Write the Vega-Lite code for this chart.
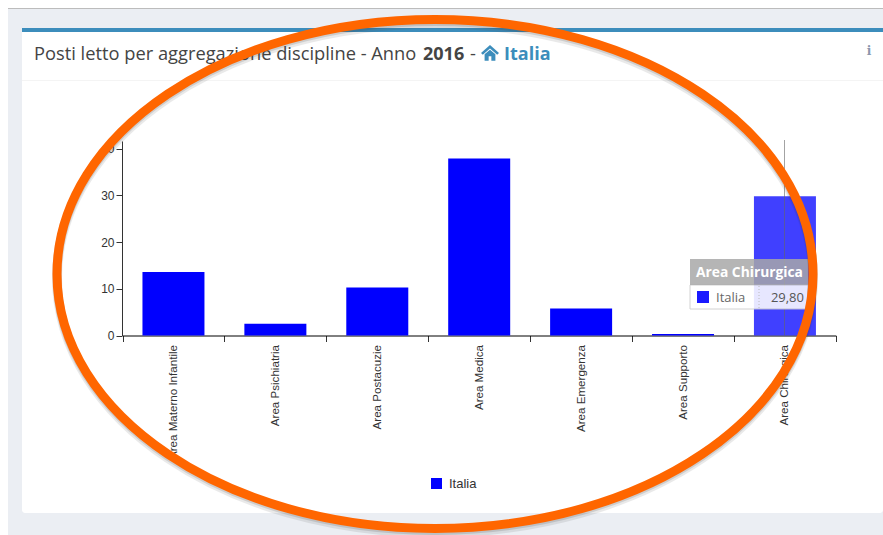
{
"$schema":"https://vega.github.io/schema/vega-lite/v6.json",
"width":861,"height":485,
"autosize":{"type":"none"},
"padding":{"left":22,"top":28,"right":0,"bottom":22},
"background":"#ebeef3",
"view":{"fill":"#ffffff","stroke":null,"cornerRadius":3},
"config":{"font":"Liberation Sans"},
"datasets":{
"posti":[
{"area":"Area Materno Infantile","valore":13.6,"serie":"Italia"},
{"area":"Area Psichiatria","valore":2.5,"serie":"Italia"},
{"area":"Area Postacuzie","valore":10.3,"serie":"Italia"},
{"area":"Area Medica","valore":37.9,"serie":"Italia"},
{"area":"Area Emergenza","valore":5.8,"serie":"Italia"},
{"area":"Area Supporto","valore":0.3,"serie":"Italia"},
{"area":"Area Chirurgica","valore":29.8,"serie":"Italia"}],
"cornice":[
{"parte":"margine","a":0,"b":8,"c":0,"d":535},
{"parte":"margine","a":0,"b":883,"c":0,"d":8},
{"parte":"filo","a":8,"b":883,"c":8,"d":9},
{"parte":"testata","a":22,"b":883,"c":28,"d":32},
{"parte":"separatore","a":22,"b":883,"c":80,"d":81}],
"anello":[{"h":435,"v":274}]
},
"data":{"name":"posti"},
"resolve":{"scale":{"x":"independent","y":"independent"}},
"layer":[
{"data":{"name":"cornice"},"transform":[{"filter":"datum.parte==='margine'"}],"mark":{"type":"rect","fill":"#ffffff"},
 "encoding":{"x":{"field":"a","type":"quantitative","scale":{"domain":[22,883],"range":[0,861]},"axis":null},"x2":{"field":"b"},"y":{"field":"c","type":"quantitative","scale":{"domain":[28,513],"range":[0,485]},"axis":null},"y2":{"field":"d"}}},
{"data":{"name":"cornice"},"transform":[{"filter":"datum.parte==='filo'"}],"mark":{"type":"rect","fill":"#bcbcbc"},
 "encoding":{"x":{"field":"a","type":"quantitative","scale":{"domain":[22,883],"range":[0,861]},"axis":null},"x2":{"field":"b"},"y":{"field":"c","type":"quantitative","scale":{"domain":[28,513],"range":[0,485]},"axis":null},"y2":{"field":"d"}}},
{"data":{"name":"cornice"},"transform":[{"filter":"datum.parte==='testata'"}],"mark":{"type":"rect","fill":"#3c8dbc"},
 "encoding":{"x":{"field":"a","type":"quantitative","scale":{"domain":[22,883],"range":[0,861]},"axis":null},"x2":{"field":"b"},"y":{"field":"c","type":"quantitative","scale":{"domain":[28,513],"range":[0,485]},"axis":null},"y2":{"field":"d"}}},
{"data":{"name":"cornice"},"transform":[{"filter":"datum.parte==='separatore'"}],"mark":{"type":"rect","fill":"#f4f4f4"},
 "encoding":{"x":{"field":"a","type":"quantitative","scale":{"domain":[22,883],"range":[0,861]},"axis":null},"x2":{"field":"b"},"y":{"field":"c","type":"quantitative","scale":{"domain":[28,513],"range":[0,485]},"axis":null},"y2":{"field":"d"}}},
{"data":{"values":[{"testo":"Posti letto per aggregazione discipline - Anno","h":34,"v":54.5},{"testo":"-","h":470,"v":54.5}]},"mark":{"type":"text","align":"left","baseline":"middle","font":"Open Sans","fontSize":18.3,"color":"#444444"},
 "encoding":{"x":{"field":"h","type":"quantitative","scale":{"domain":[22,883],"range":[0,861]},"axis":null},"y":{"field":"v","type":"quantitative","scale":{"domain":[28,513],"range":[0,485]},"axis":null},"text":{"field":"testo"}}},
{"data":{"values":[{"testo":"2016","h":423,"v":54.5}]},"mark":{"type":"text","align":"left","baseline":"middle","font":"Open Sans","fontSize":18,"fontWeight":"bold","color":"#444444"},
 "encoding":{"x":{"field":"h","type":"quantitative","scale":{"domain":[22,883],"range":[0,861]},"axis":null},"y":{"field":"v","type":"quantitative","scale":{"domain":[28,513],"range":[0,485]},"axis":null},"text":{"field":"testo"}}},
{"data":{"values":[{"testo":"Italia","h":504,"v":54.5}]},"mark":{"type":"text","align":"left","baseline":"middle","font":"Open Sans","fontSize":18,"fontWeight":"bold","color":"#3c8dbc"},
 "encoding":{"x":{"field":"h","type":"quantitative","scale":{"domain":[22,883],"range":[0,861]},"axis":null},"y":{"field":"v","type":"quantitative","scale":{"domain":[28,513],"range":[0,485]},"axis":null},"text":{"field":"testo"}}},
{"data":{"values":[{"h":490,"v":53}]},"mark":{"type":"point","filled":true,"opacity":1,"color":"#3c8dbc","size":324,"shape":"M0 -0.9 L1 0 L0.8 0.2 L0 -0.5 L-0.8 0.2 L-1 0 Z M-0.6 0.15 L0 -0.35 L0.6 0.15 V0.85 H0.15 V0.35 H-0.15 V0.85 H-0.6 Z"},
 "encoding":{"x":{"field":"h","type":"quantitative","scale":{"domain":[22,883],"range":[0,861]},"axis":null},"y":{"field":"v","type":"quantitative","scale":{"domain":[28,513],"range":[0,485]},"axis":null}}},
{"data":{"values":[{"testo":"i","h":869,"v":51}]},"mark":{"type":"text","align":"center","baseline":"middle","font":"DejaVu Serif","fontSize":12,"fontWeight":"bold","color":"#8b97ad"},
 "encoding":{"x":{"field":"h","type":"quantitative","scale":{"domain":[22,883],"range":[0,861]},"axis":null},"y":{"field":"v","type":"quantitative","scale":{"domain":[28,513],"range":[0,485]},"axis":null},"text":{"field":"testo"}}},
{"mark":{"type":"bar","width":62},
 "encoding":{
  "x":{"field":"area","type":"nominal","sort":null,"scale":{"range":[100.5,813.9],"paddingInner":0,"paddingOuter":0},
   "axis":{"title":null,"offset":-177.5,"orient":"bottom","tickBand":"extent","labelAngle":270,"labelAlign":"right","labelBaseline":"middle","labelFont":"Liberation Sans","labelFontSize":11.6,"labelColor":"#333333","labelPadding":3,"tickSize":6,"tickColor":"#333333","domainColor":"#000000","labelOverlap":false,"labelLimit":200}},
  "y":{"field":"valore","type":"quantitative","scale":{"domain":[0,41.65],"range":[307.5,113],"nice":false},
   "axis":{"title":null,"offset":-100,"orient":"left","values":[0,10,20,30,40],"grid":false,"labelFont":"Liberation Sans","labelFontSize":12,"labelColor":"#333333","tickSize":6,"tickColor":"#333333","domainColor":"#333333","labelPadding":2}},
  "color":{"field":"serie","type":"nominal","scale":{"domain":["Italia"],"range":["#0000ff"]},
   "legend":{"title":null,"orient":"none","legendX":408,"legendY":449,"symbolType":"square","symbolSize":121,"symbolOpacity":1,"labelFont":"Liberation Sans","labelFontSize":13,"labelColor":"#333333","labelOpacity":1,"labelOffset":6}},
  "opacity":{"condition":{"test":"datum.area==='Area Chirurgica'","value":0.75},"value":1}}},
{"data":{"values":[{"h":784.5,"v1":140,"v2":335.5}]},"mark":{"type":"rule","color":"#666666","opacity":0.6,"strokeWidth":1},
 "encoding":{"x":{"field":"h","type":"quantitative","scale":{"domain":[22,883],"range":[0,861]},"axis":null},"y":{"field":"v1","type":"quantitative","scale":{"domain":[28,513],"range":[0,485]},"axis":null},"y2":{"field":"v2"}}},
{"data":{"values":[{"a":690,"b":808,"c":285,"d":309}]},"mark":{"type":"rect","fill":"#ffffff","opacity":0.88,"stroke":"#cccccc","strokeWidth":1},
 "encoding":{"x":{"field":"a","type":"quantitative","scale":{"domain":[22,883],"range":[0,861]},"axis":null},"x2":{"field":"b"},"y":{"field":"c","type":"quantitative","scale":{"domain":[28,513],"range":[0,485]},"axis":null},"y2":{"field":"d"}}},
{"data":{"values":[{"a":690,"b":808,"c":259,"d":285}]},"mark":{"type":"rect","fill":"#a8a8a8","opacity":0.85},
 "encoding":{"x":{"field":"a","type":"quantitative","scale":{"domain":[22,883],"range":[0,861]},"axis":null},"x2":{"field":"b"},"y":{"field":"c","type":"quantitative","scale":{"domain":[28,513],"range":[0,485]},"axis":null},"y2":{"field":"d"}}},
{"data":{"values":[{"a":697,"b":709,"c":291,"d":303}]},"mark":{"type":"rect","fill":"#1a1aff"},
 "encoding":{"x":{"field":"a","type":"quantitative","scale":{"domain":[22,883],"range":[0,861]},"axis":null},"x2":{"field":"b"},"y":{"field":"c","type":"quantitative","scale":{"domain":[28,513],"range":[0,485]},"axis":null},"y2":{"field":"d"}}},
{"data":{"values":[{"h":759,"v1":286,"v2":309}]},"mark":{"type":"rule","color":"#bbbbbb","strokeDash":[1,2],"strokeWidth":1},
 "encoding":{"x":{"field":"h","type":"quantitative","scale":{"domain":[22,883],"range":[0,861]},"axis":null},"y":{"field":"v1","type":"quantitative","scale":{"domain":[28,513],"range":[0,485]},"axis":null},"y2":{"field":"v2"}}},
{"data":{"values":[{"testo":"Area Chirurgica","h":696,"v":273}]},"mark":{"type":"text","align":"left","baseline":"middle","font":"Open Sans","fontSize":13.8,"fontWeight":"bold","color":"#ffffff"},
 "encoding":{"x":{"field":"h","type":"quantitative","scale":{"domain":[22,883],"range":[0,861]},"axis":null},"y":{"field":"v","type":"quantitative","scale":{"domain":[28,513],"range":[0,485]},"axis":null},"text":{"field":"testo"}}},
{"data":{"values":[{"testo":"Italia","h":716,"v":298}]},"mark":{"type":"text","align":"left","baseline":"middle","font":"Open Sans","fontSize":13,"color":"#666666"},
 "encoding":{"x":{"field":"h","type":"quantitative","scale":{"domain":[22,883],"range":[0,861]},"axis":null},"y":{"field":"v","type":"quantitative","scale":{"domain":[28,513],"range":[0,485]},"axis":null},"text":{"field":"testo"}}},
{"data":{"values":[{"testo":"29,80","h":804,"v":298}]},"mark":{"type":"text","align":"right","baseline":"middle","font":"Open Sans","fontSize":13,"color":"#555555"},
 "encoding":{"x":{"field":"h","type":"quantitative","scale":{"domain":[22,883],"range":[0,861]},"axis":null},"y":{"field":"v","type":"quantitative","scale":{"domain":[28,513],"range":[0,485]},"axis":null},"text":{"field":"testo"}}},
{"data":{"name":"anello"},"mark":{"type":"point","filled":false,"opacity":0.1,"stroke":"#333333","strokeWidth":10,"size":571536,"yOffset":4,"shape":"M-1 0 A1 0.6733 0 1 1 1 0 A1 0.6733 0 1 1 -1 0 Z"},
 "encoding":{"x":{"field":"h","type":"quantitative","scale":{"domain":[22,883],"range":[0,861]},"axis":null},"y":{"field":"v","type":"quantitative","scale":{"domain":[28,513],"range":[0,485]},"axis":null}}},
{"data":{"name":"anello"},"mark":{"type":"point","filled":false,"opacity":0.15,"stroke":"#333333","strokeWidth":9,"size":571536,"yOffset":2,"shape":"M-1 0 A1 0.6733 0 1 1 1 0 A1 0.6733 0 1 1 -1 0 Z"},
 "encoding":{"x":{"field":"h","type":"quantitative","scale":{"domain":[22,883],"range":[0,861]},"axis":null},"y":{"field":"v","type":"quantitative","scale":{"domain":[28,513],"range":[0,485]},"axis":null}}},
{"data":{"name":"anello"},"mark":{"type":"point","filled":false,"opacity":1,"stroke":"#ff6600","strokeWidth":9,"size":571536,"shape":"M-1 0 A1 0.6733 0 1 1 1 0 A1 0.6733 0 1 1 -1 0 Z"},
 "encoding":{"x":{"field":"h","type":"quantitative","scale":{"domain":[22,883],"range":[0,861]},"axis":null},"y":{"field":"v","type":"quantitative","scale":{"domain":[28,513],"range":[0,485]},"axis":null}}}
]
}
